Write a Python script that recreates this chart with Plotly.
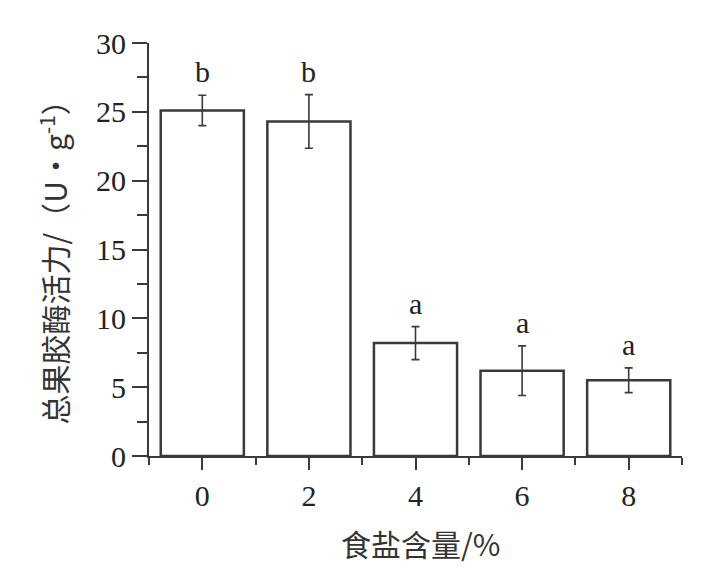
import plotly.graph_objects as go

# Data
salt = [0, 2, 4, 6, 8]                 # 食盐含量 /%
activity = [25.1, 24.3, 8.2, 6.2, 5.5]  # 总果胶酶活力 U/g
error = [1.1, 1.95, 1.2, 1.8, 0.9]
letters = ["b", "b", "a", "a", "a"]
y_ticks = [0, 5, 10, 15, 20, 25, 30]

serif = "Liberation Serif, Times New Roman, Noto Sans CJK SC, serif"
cjk = "Noto Sans CJK SC, Liberation Serif, serif"
dark = "#3a3a3a"

fig = go.Figure()
fig.add_trace(go.Bar(
    x=salt, y=activity, width=1.56,
    marker=dict(color="white", line=dict(color=dark, width=2.5)),
    error_y=dict(type="data", array=error, visible=True, color=dark,
                 thickness=1.6, width=4),
    showlegend=False,
))

for xv, yv, e, t in zip(salt, activity, error, letters):
    fig.add_annotation(x=xv, y=yv + e, text=t, showarrow=False,
                       yanchor="bottom", yshift=5,
                       font=dict(family=serif, size=30, color="#222"))

fig.add_annotation(xref="paper", yref="paper", x=0.51, y=-0.21,
                   xanchor="center", yanchor="middle",
                   text="食盐含量/%", showarrow=False,
                   font=dict(family=cjk, size=30, color="#333"))
fig.add_annotation(xref="paper", yref="paper", x=-0.178, y=0.486,
                   xanchor="center", yanchor="middle",
                   text="总果胶酶活力/（U•g<sup>-1</sup>）", showarrow=False,
                   textangle=-90,
                   font=dict(family=cjk, size=30, color="#333"))

fig.update_layout(
    width=728, height=572,
    margin=dict(l=141, r=54, t=35, b=124),
    paper_bgcolor="white", plot_bgcolor="white",
    bargap=0.2,
    font=dict(family=serif, color="#222"),
)
fig.update_xaxes(
    range=[-1, 9], tickmode="array", tickvals=salt,
    ticktext=[str(s) for s in salt],
    showline=True, linecolor=dark, linewidth=2,
    ticks="outside", ticklen=12, tickwidth=2, tickcolor=dark,
    minor=dict(tickmode="array", tickvals=[-1, 1, 3, 5, 7, 9],
               ticks="outside", ticklen=7, tickwidth=2, tickcolor=dark),
    tickfont=dict(family=serif, size=30, color="#222"),
    showgrid=False, zeroline=False, fixedrange=True, automargin=False,
)
fig.update_yaxes(
    range=[0, 30], tickmode="array", tickvals=y_ticks,
    showline=True, linecolor=dark, linewidth=2,
    ticks="outside", ticklen=15, tickwidth=2, tickcolor=dark,
    minor=dict(tickmode="array", tickvals=[2.5, 7.5, 12.5, 17.5, 22.5, 27.5],
               ticks="outside", ticklen=10, tickwidth=2, tickcolor=dark),
    tickfont=dict(family=serif, size=30, color="#222"),
    showgrid=False, zeroline=False, fixedrange=True, automargin=False,
)

fig.write_html("out.html")
